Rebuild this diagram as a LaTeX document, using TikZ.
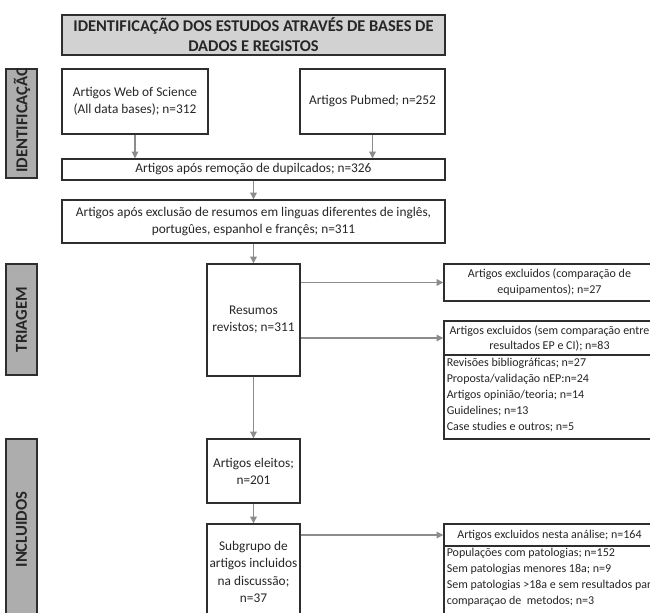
\documentclass[tikz,border=0pt]{standalone}
\usepackage{fontspec}
\setmainfont{Carlito}
\usetikzlibrary{arrows.meta}
\definecolor{bordc}{HTML}{2E2E2E}
\definecolor{arrc}{HTML}{8C8C8C}
\definecolor{titlefill}{HTML}{D2D2D2}
\definecolor{sidefill}{HTML}{ADADAD}
\definecolor{txt}{HTML}{262626}
\begin{document}
\begin{tikzpicture}[x=0.75pt,y=-0.75pt,
  box/.style={draw=bordc, line width=1.1pt, fill=white, inner sep=0pt, align=center, text=txt, font=\fontsize{10}{12.75}\selectfont},
  exbox/.style={box, font=\fontsize{9}{12}\selectfont},
  titlebox/.style={box, fill=titlefill, font=\bfseries\fontsize{12.3}{15}\selectfont},
  sidebox/.style={draw=bordc, line width=1.1pt, fill=sidefill, inner sep=0pt, minimum width=23.25pt},
  sidetext/.style={rotate=90, font=\bfseries\fontsize{12.5}{12}\selectfont, text=txt, inner sep=0pt},
  listtext/.style={align=left, inner sep=0pt, text=txt, font=\fontsize{9}{12}\selectfont, anchor=north west},
  arr/.style={draw=arrc, line width=0.8pt, -{Triangle[width=5pt,length=5pt]}}
]
\useasboundingbox (0,0) rectangle (650,612);

% title
\node[titlebox, minimum width=287.25pt, minimum height=30pt] (title) at (253.5,35)
  {IDENTIFICAÇÃO DOS ESTUDOS ATRAVÉS DE BASES DE\\DADOS E REGISTOS};

% side labels
\node[sidebox, minimum height=81.75pt] (sid) at (21.5,123.5) {};
\begin{scope}
  \clip (sid.south west) rectangle (sid.north east);
  \node[sidetext, anchor=west] (sidt) at (22,173) {IDENTIFICAÇÃO};
\end{scope}
\node[sidebox, minimum height=83.25pt] (stri) at (21.5,319.5) {};
\node[sidetext] (strit) at (stri.center) {TRIAGEM};
\node[sidebox, minimum height=135.75pt] (sinc) at (21.5,529.5) {};
\node[sidetext] (sinct) at (sinc.center) {INCLUIDOS};

% main column
\node[box, minimum width=109.5pt, minimum height=48.75pt] (wos) at (135,101.5)
  {Artigos Web of Science\\(All data bases); n=312};
\node[box, minimum width=108.75pt, minimum height=48.75pt] (pub) at (372.5,101.5)
  {Artigos Pubmed; n=252};
\node[box, minimum width=287.25pt, minimum height=15.75pt] (dup) at (253.5,169.5)
  {Artigos após remoção de dupilcados; n=326};
\node[box, minimum width=287.25pt, minimum height=32.25pt] (lang) at (253.5,221.5)
  {Artigos após exclusão de resumos em linguas diferentes de inglês,\\portugûes, espanhol e françês; n=311};
\node[box, minimum width=69.75pt, minimum height=84pt] (res) at (253.5,320)
  {Resumos\\revistos; n=311};
\node[box, minimum width=69.75pt, minimum height=48pt] (ele) at (253.5,471)
  {Artigos eleitos;\\n=201};
\node[box, minimum width=69.75pt, minimum height=72pt, font=\fontsize{10}{13}\selectfont] (sub) at (253.5,572)
  {Subgrupo de\\artigos incluidos\\na discussão;\\n=37};

% exclusion boxes
\node[exbox, minimum width=158.25pt, minimum height=27.75pt] (ex1) at (549.5,282.5)
  {Artigos excluidos (comparação de\\equipamentos); n=27};
\node[exbox, minimum width=158.25pt, minimum height=25.5pt, font=\fontsize{9}{11.25}\selectfont] (ex2h) at (549.5,338)
  {Artigos excluidos (sem comparação entre\\resultados EP e CI); n=83};
\node[exbox, minimum width=158.25pt, minimum height=63pt] (ex2l) at (549.5,397) {};
\node[listtext] (ex2t) at (446.5,358)
  {Revisões bibliográficas; n=27\\Proposta/validação nEP:n=24\\Artigos opinião/teoria; n=14\\Guidelines; n=13\\Case studies e outros; n=5};
\node[exbox, minimum width=158.25pt, minimum height=16.5pt] (ex3h) at (549.5,535)
  {Artigos excluidos nesta análise; n=164};
\node[exbox, minimum width=158.25pt, minimum height=60pt] (ex3l) at (549.5,586) {};
\node[listtext] (ex3t) at (446.5,548)
  {Populações com patologias; n=152\\Sem patologias menores 18a; n=9\\Sem patologias >18a e sem resultados para\\comparaçao de\ \ metodos; n=3};

% arrows
\draw[arr] (wos.south) -- (wos.south |- dup.north);
\draw[arr] (pub.south) -- (pub.south |- dup.north);
\draw[arr] (dup.south) -- (lang.north);
\draw[arr] (lang.south) -- (res.north);
\draw[arr] (res.east |- ex1.west) -- (ex1.west);
\draw[arr] (res.east |- ex2h.west) -- (ex2h.west);
\draw[arr] (res.south) -- (ele.north);
\draw[arr] (ele.south) -- (sub.north);
\draw[arr] (sub.east |- ex3h.west) -- (ex3h.west);
\end{tikzpicture}
\end{document}
